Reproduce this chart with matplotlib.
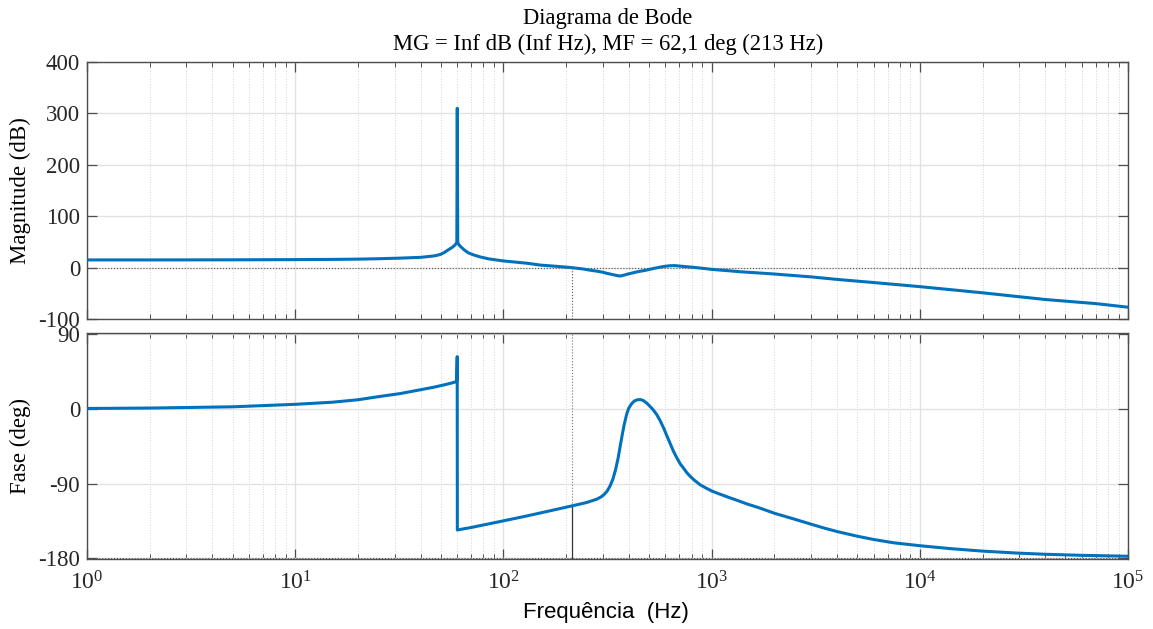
import numpy as np
import matplotlib
matplotlib.use("Agg")
import matplotlib.pyplot as plt
from matplotlib.ticker import LogLocator, NullFormatter

plt.rcParams['font.family'] = ['Liberation Serif', 'DejaVu Serif']
plt.rcParams['mathtext.fontset'] = 'custom'
plt.rcParams['mathtext.rm'] = 'Liberation Serif'
plt.rcParams['mathtext.it'] = 'Liberation Serif:italic'
plt.rcParams['axes.unicode_minus'] = False

# dados (Hz, dB)
mag_freq = [1, 2, 5, 10, 15, 20, 25, 32, 40, 46, 48, 50, 52, 54.5, 57,
            58.5, 59.3, 59.7, 60, 60.3, 60.8, 61.5, 63, 65, 68, 71.5, 77,
            85, 100, 130, 150, 180, 213, 240, 261, 282, 300, 313, 330, 345,
            363, 380, 400, 420, 440, 465, 488, 520, 550, 590, 631, 665, 700,
            760, 817, 900, 1000, 1200, 1368, 1700, 2010, 3000, 4020, 6000,
            1e4, 2e4, 4e4, 7e4, 1e5]
mag_db = [15, 15, 15.2, 15.6, 16, 16.5, 17.3, 18.5, 20, 22.6, 24, 26, 29.5,
          35, 40, 44, 47, 49, 310, 49, 46, 43, 39, 34, 28.5, 25, 21,
          17, 13, 8.5, 5, 2.5, 0, -2.5, -5, -7, -9, -11, -13, -14.8,
          -16.4, -14.5, -12, -10, -8, -6.3, -4.7, -2, 0, 2.3, 3.7, 3.9, 3,
          1.7, 0.6, -1.2, -3.4, -6, -8, -10.5, -12.5, -18, -23, -29,
          -37, -49, -62, -70, -77]

# fase (graus)
ph_freq = [1, 2, 5, 10, 15, 20, 25.5, 32, 39.8, 46, 52, 56, 59.6, 59.95,
           60.05, 70, 80, 100, 130, 160, 213, 250, 280, 295, 305, 315, 325,
           335, 345, 355, 363, 372, 380, 391, 400, 412, 425, 440, 455, 470,
           490, 510, 525, 545, 565, 590, 608, 630, 655, 680, 705, 735, 760,
           790, 817, 850, 880, 940, 1000, 1100, 1200, 1350, 1473, 1700, 2010,
           2500, 3000, 3500, 4020, 5000, 6000, 7500, 1e4, 1.4e4, 2e4, 3e4,
           4e4, 6e4, 1e5]
ph_deg = [0.5, 1, 2.5, 5.5, 8, 11, 15, 18.5, 23, 26, 29, 31, 33, 63,
          -146, -143, -140, -135, -129, -124, -117, -113, -109, -106, -103,
          -99, -93, -85, -74, -60, -46, -31, -19, -6, 1, 6, 9.5, 11, 11.2,
          10, 6.5, 2, -1.5, -7, -14, -24, -32, -41, -51, -59, -66, -72,
          -77, -81.5, -85, -88.5, -91.5, -95.5, -99, -103, -106.5, -111,
          -114.5, -119.5, -126, -133, -139, -144, -148, -153.5, -157.5,
          -161.5, -165, -168.5, -171.5, -174, -175.3, -176.6, -177.7]

# margens
f_cross = 213
ph_cross = -117

mag_ticks = [-100, 0, 100, 200, 300, 400]
ph_ticks = [-180, -90, 0, 90]

azul = '#0072BD'
cinza = '#4d4d4d'

fig = plt.figure(figsize=(11.53, 6.29), dpi=100)
ax1 = fig.add_axes([0.0755, 0.4928, 0.9029, 0.4086])
ax2 = fig.add_axes([0.0755, 0.1113, 0.9029, 0.3593])

def estilo(ax):
    ax.set_xscale('log')
    ax.set_xlim(1, 1e5)
    ax.xaxis.set_major_locator(LogLocator(base=10, numticks=10))
    ax.xaxis.set_minor_locator(LogLocator(base=10, subs=np.arange(2, 10), numticks=100))
    ax.grid(True, which='major', color='#e2e2e2', lw=1.0, ls='-')
    ax.grid(True, which='minor', axis='x', color='#d4d4d4', lw=0.7, ls=':')
    ax.set_axisbelow(True)
    ax.tick_params(which='both', direction='in', top=True, right=True,
                   color=cinza, labelsize=16.5, labelcolor='#262626')
    ax.tick_params(which='major', length=7, width=0.9)
    ax.tick_params(which='minor', length=3.5, width=0.7)
    ax.tick_params(axis='y', pad=5)
    ax.tick_params(axis='x', pad=9, labelsize=17)
    for s in ax.spines.values():
        s.set_color(cinza)
        s.set_linewidth(1.0)

estilo(ax1)
estilo(ax2)

# magnitude
ax1.axhline(0, color='#555555', lw=0.8, ls=':')
ax1.plot([f_cross, f_cross], [-100, 0], color='#555555', lw=0.8, ls=':')
ax1.plot(mag_freq, mag_db, color=azul, lw=2.2, zorder=3)
ax1.set_ylim(-100, 400)
ax1.set_yticks(mag_ticks)
ax1.xaxis.set_major_formatter(NullFormatter())
ax1.set_ylabel('Magnitude (dB)', fontsize=16.5)
ax1.yaxis.set_label_coords(-0.054, 0.5)

# fase
ax2.axhline(-180, color='#555555', lw=0.8, ls=':')
ax2.plot([f_cross, f_cross], [ph_cross, 92], color='#777777', lw=0.8, ls=':')
ax2.plot([f_cross, f_cross], [-180, ph_cross], color='#333333', lw=0.9)
ax2.plot(ph_freq, ph_deg, color=azul, lw=2.2, zorder=3)
ax2.set_ylim(-181, 91.5)
ax2.set_yticks(ph_ticks)
ax2.set_ylabel('Fase (deg)', fontsize=16.5)
ax2.yaxis.set_label_coords(-0.054, 0.5)

fig.text(0.527, 0.971, 'Diagrama de Bode', ha='center', va='center', fontsize=16.3)
fig.text(0.527, 0.930, 'MG = Inf dB (Inf Hz), MF = 62,1 deg (213 Hz)',
         ha='center', va='center', fontsize=16.3)
fig.text(0.5256, 0.027, 'Frequência  (Hz)', ha='center', va='center',
         fontsize=16, family=['Liberation Sans', 'DejaVu Sans'])

fig.savefig('out.png', dpi=100)
